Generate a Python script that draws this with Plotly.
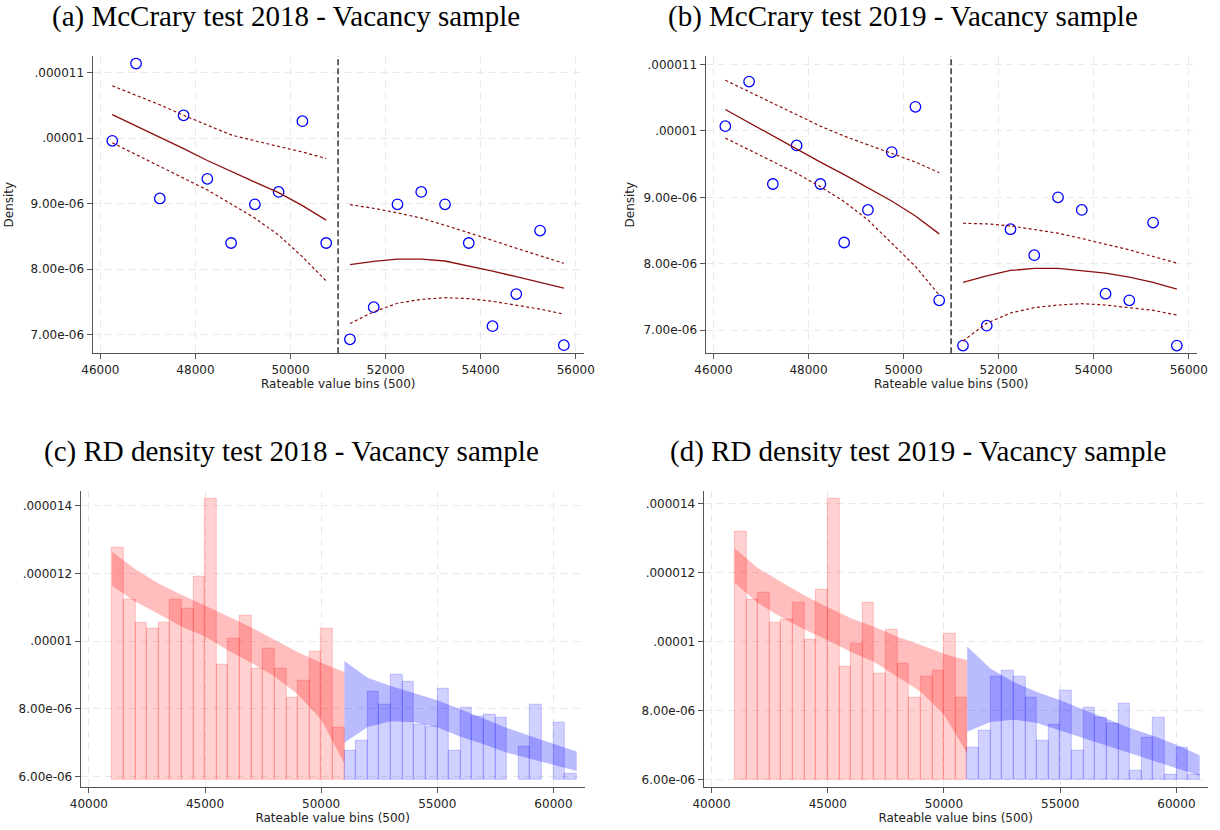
import plotly.graph_objects as go

E6 = 1e-6          # densities below are stored in units of 1e-6
cutoff = 51000     # threshold in rateable value
bin_width = 500

# ---------------- McCrary panels (a) and (b) ----------------
mc_bins = [46250, 46750, 47250, 47750, 48250, 48750, 49250, 49750, 50250, 50750,
           51250, 51750, 52250, 52750, 53250, 53750, 54250, 54750, 55250, 55750]
mc_left_x = mc_bins[:10]
mc_right_x = mc_bins[10:]

dens_2018 = [9.96, 11.14, 9.08, 10.35, 9.38, 8.40, 8.99, 9.18, 10.26, 8.40,
             6.93, 7.42, 8.99, 9.18, 8.99, 8.40, 7.13, 7.62, 8.59, 6.84]
fit_left_2018 = [10.36, 10.19, 10.01, 9.84, 9.66, 9.49, 9.33, 9.17, 8.97, 8.75]
up_left_2018 = [10.80, 10.66, 10.51, 10.35, 10.20, 10.05, 9.96, 9.88, 9.79, 9.69]
lo_left_2018 = [9.93, 9.75, 9.575, 9.40, 9.21, 8.995, 8.78, 8.52, 8.19, 7.82]
fit_right_2018 = [8.07, 8.12, 8.155, 8.155, 8.125, 8.05, 7.97, 7.885, 7.80, 7.71]
up_right_2018 = [8.985, 8.93, 8.86, 8.78, 8.67, 8.56, 8.44, 8.32, 8.21, 8.09]
lo_right_2018 = [7.17, 7.35, 7.48, 7.54, 7.565, 7.55, 7.51, 7.45, 7.39, 7.315]

dens_2019 = [10.07, 10.74, 9.20, 9.78, 9.20, 8.32, 8.81, 9.68, 10.36, 7.45,
             6.77, 7.07, 8.52, 8.13, 9.00, 8.81, 7.55, 7.45, 8.62, 6.77]
fit_left_2019 = [10.32, 10.12, 9.93, 9.73, 9.53, 9.34, 9.14, 8.945, 8.72, 8.45]
up_left_2019 = [10.76, 10.59, 10.41, 10.24, 10.07, 9.92, 9.79, 9.66, 9.53, 9.37]
lo_left_2019 = [9.89, 9.71, 9.54, 9.36, 9.16, 8.935, 8.66, 8.31, 7.96, 7.53]
fit_right_2019 = [7.72, 7.82, 7.90, 7.93, 7.93, 7.90, 7.86, 7.80, 7.72, 7.62]
up_right_2019 = [8.61, 8.60, 8.57, 8.52, 8.46, 8.38, 8.30, 8.21, 8.11, 8.01]
lo_right_2019 = [6.84, 7.105, 7.26, 7.34, 7.38, 7.40, 7.38, 7.34, 7.30, 7.23]

# ---------------- RD density panels (c) and (d) ----------------
hist_left_x = [41250, 41750, 42250, 42750, 43250, 43750, 44250, 44750, 45250, 45750,
               46250, 46750, 47250, 47750, 48250, 48750, 49250, 49750, 50250, 50750]
hist_right_x = [51250, 51750, 52250, 52750, 53250, 53750, 54250, 54750, 55250, 55750,
                56250, 56750, 57250, 57750, 58250, 58750, 59250, 59750, 60250, 60750]

hist_left_2018 = [12.77, 11.23, 10.55, 10.35, 10.55, 11.23, 10.95, 11.90, 14.22, 9.29,
                  10.06, 10.74, 9.19, 9.76, 9.19, 8.32, 8.82, 9.67, 10.35, 7.45]
hist_right_2018 = [6.77, 7.06, 8.51, 8.13, 9.00, 8.81, 7.54, 7.46, 8.60, 6.77,
                   8.02, 7.75, 7.83, 7.73, None, 6.87, 8.13, None, 7.58, 6.09]
hist_base_2018 = 5.91

hist_left_2019 = [13.18, 11.23, 11.42, 10.54, 10.64, 11.13, 10.06, 11.52, 14.15, 9.28,
                  9.95, 11.13, 9.08, 10.35, 9.37, 8.39, 8.98, 9.17, 10.24, 8.39]
hist_right_2019 = [6.94, 7.42, 8.98, 9.17, 8.98, 8.39, 7.12, 7.60, 8.59, 6.83,
                   8.10, 7.81, 7.61, 8.19, 6.25, 7.23, 7.81, 6.15, 6.94, 6.15]
hist_base_2019 = 6.00

band_left_x = [41000, 42000, 43000, 44000, 45000, 46000, 47000, 48000, 49000, 50000, 50500, 51000]
band_right_x = [51000, 52000, 53000, 54000, 55000, 56000, 57000, 58000, 59000, 60000, 61000]

band_left_up_2018 = [12.64, 12.12, 11.70, 11.36, 11.05, 10.72, 10.40, 10.03, 9.67, 9.36, 9.22, 9.08]
band_left_lo_2018 = [11.63, 11.16, 10.80, 10.42, 10.13, 9.72, 9.35, 8.95, 8.42, 7.68, 7.05, 6.38]
band_right_up_2018 = [9.41, 8.91, 8.67, 8.46, 8.25, 7.98, 7.70, 7.43, 7.19, 6.96, 6.73]
band_right_lo_2018 = [6.99, 7.46, 7.63, 7.60, 7.45, 7.17, 6.95, 6.70, 6.52, 6.34, 6.16]

band_left_up_2019 = [12.71, 12.13, 11.73, 11.34, 11.00, 10.68, 10.43, 10.14, 9.90, 9.65, 9.55, 9.47]
band_left_lo_2019 = [11.70, 11.12, 10.71, 10.35, 10.04, 9.70, 9.41, 8.98, 8.55, 7.89, 7.33, 6.76]
band_right_up_2019 = [9.86, 9.22, 8.83, 8.54, 8.30, 8.03, 7.76, 7.50, 7.27, 7.01, 6.71]
band_right_lo_2019 = [7.39, 7.67, 7.74, 7.64, 7.43, 7.22, 7.00, 6.76, 6.55, 6.33, 6.11]

titles = ["(a) McCrary test 2018 - Vacancy sample",
          "(b) McCrary test 2019 - Vacancy sample",
          "(c) RD density test 2018 - Vacancy sample",
          "(d) RD density test 2019 - Vacancy sample"]
x_title = "Rateable value bins (500)"
y_title = "Density"

mc_xticks = [46000, 48000, 50000, 52000, 54000, 56000]
rd_xticks = [40000, 45000, 50000, 55000, 60000]
mc_yticks = [7, 8, 9, 10, 11]
mc_yticktext = ["7.00e-06", "8.00e-06", "9.00e-06", ".00001", ".000011"]
rd_yticks = [6, 8, 10, 12, 14]
rd_yticktext = ["6.00e-06", "8.00e-06", ".00001", ".000012", ".000014"]

# axis ranges (x in rateable value, y in units of 1e-6)
xranges = {1: [45838, 56170], 2: [45837, 56170], 3: [39652, 61341], 4: [39669, 61341]}
yranges = {1: [6.716, 11.255], 2: [6.654, 11.125], 3: [5.675, 14.443], 4: [5.778, 14.377]}


def scaled(values):
    return [None if v is None else v * E6 for v in values]


W, H = 1220, 830
MAROON = "#8b1010"
RED_BAR = "rgba(255,0,0,0.18)"
RED_EDGE = "rgba(255,0,0,0.20)"
RED_BAND = "rgba(255,0,0,0.26)"
BLUE_BAR = "rgba(0,0,255,0.18)"
BLUE_EDGE = "rgba(0,0,255,0.20)"
BLUE_BAND = "rgba(0,0,255,0.27)"

fig = go.Figure()


def add_mccrary(k, dens, fl, ul, ll, fr, ur, lr):
    xa, ya = f"x{k}", f"y{k}"
    fig.add_trace(go.Scatter(x=mc_bins, y=scaled(dens), mode="markers",
                             marker=dict(symbol="circle-open", size=10.5, color="#0000ff",
                                         line=dict(width=1.3, color="#0000ff")),
                             xaxis=xa, yaxis=ya, showlegend=False))
    for xs, f, u, l in ((mc_left_x, fl, ul, ll), (mc_right_x, fr, ur, lr)):
        fig.add_trace(go.Scatter(x=xs, y=scaled(f), mode="lines",
                                 line=dict(color=MAROON, width=1.3),
                                 xaxis=xa, yaxis=ya, showlegend=False))
        for ci in (u, l):
            fig.add_trace(go.Scatter(x=xs, y=scaled(ci), mode="lines",
                                     line=dict(color=MAROON, width=1.2, dash="3px,2.5px"),
                                     xaxis=xa, yaxis=ya, showlegend=False))
    # cutoff line across the whole panel height
    fig.add_trace(go.Scatter(x=[cutoff, cutoff], y=scaled(yranges[k]), mode="lines",
                             line=dict(color="black", width=1.2, dash="6px,3px"),
                             xaxis=xa, yaxis=ya, showlegend=False, hoverinfo="skip"))


def add_rd(k, hl, hr, base, blx_up, blx_lo, brx_up, brx_lo):
    xa, ya = f"x{k}", f"y{k}"
    for xs, hs, fill, edge in ((hist_left_x, hl, RED_BAR, RED_EDGE),
                               (hist_right_x, hr, BLUE_BAR, BLUE_EDGE)):
        px = [x for x, h in zip(xs, hs) if h is not None]
        ph = [(h - base) * E6 for h in hs if h is not None]
        fig.add_trace(go.Bar(x=px, y=ph, base=base * E6, width=bin_width,
                             marker=dict(color=fill, line=dict(color=edge, width=1)),
                             xaxis=xa, yaxis=ya, showlegend=False))
    for xs, up, lo, col in ((band_left_x, blx_up, blx_lo, RED_BAND),
                            (band_right_x, brx_up, brx_lo, BLUE_BAND)):
        fig.add_trace(go.Scatter(x=xs + xs[::-1], y=scaled(up) + scaled(lo)[::-1],
                                 mode="lines", fill="toself", fillcolor=col,
                                 line=dict(width=0), xaxis=xa, yaxis=ya,
                                 showlegend=False, hoverinfo="skip"))


add_mccrary(1, dens_2018, fit_left_2018, up_left_2018, lo_left_2018,
            fit_right_2018, up_right_2018, lo_right_2018)
add_mccrary(2, dens_2019, fit_left_2019, up_left_2019, lo_left_2019,
            fit_right_2019, up_right_2019, lo_right_2019)
add_rd(3, hist_left_2018, hist_right_2018, hist_base_2018,
       band_left_up_2018, band_left_lo_2018, band_right_up_2018, band_right_lo_2018)
add_rd(4, hist_left_2019, hist_right_2019, hist_base_2019,
       band_left_up_2019, band_left_lo_2019, band_right_up_2019, band_right_lo_2019)

TICKFONT = dict(family="DejaVu Sans", size=12, color="#222")
LABELFONT = dict(family="DejaVu Sans", size=12, color="#222")
GRID = dict(showgrid=True, gridcolor="#e9e9e9", gridwidth=1, griddash="7px,5px")
AXLINE = dict(showline=True, linecolor="#555", linewidth=1.3, ticks="outside",
              ticklen=5, tickcolor="#555", tickwidth=1.2, zeroline=False,
              tickfont=TICKFONT, automargin=False, ticklabeloverflow="allow")

# plot-area boxes in pixels (left, right, top, bottom)
boxes = {
    1: (92.7, 583.8, 56.0, 353.3),
    2: (705.7, 1196.8, 56.0, 353.3),
    3: (80.8, 584.6, 490.7, 787.3),
    4: (703.8, 1207.6, 490.7, 787.3),
}
y_title_standoff = {1: 14, 2: 6}

layout = {}
for k, (l, r, t, b) in boxes.items():
    sfx = "" if k == 1 else str(k)
    mc = k in (1, 2)
    xt = mc_xticks if mc else rd_xticks
    layout[f"xaxis{sfx}"] = dict(
        domain=[l / W, r / W], anchor=f"y{sfx}", range=xranges[k],
        tickvals=xt, ticktext=[str(v) for v in xt],
        title=dict(text=x_title, font=LABELFONT, standoff=3),
        **GRID, **AXLINE)
    layout[f"yaxis{sfx}"] = dict(
        domain=[1 - b / H, 1 - t / H], anchor=f"x{sfx}",
        range=scaled(yranges[k]),
        tickvals=scaled(mc_yticks if mc else rd_yticks),
        ticktext=mc_yticktext if mc else rd_yticktext,
        title=dict(text=y_title if mc else "", font=LABELFONT,
                   standoff=y_title_standoff.get(k, 10)),
        **GRID, **AXLINE)

title_pos = [(286, 16), (903, 16), (291, 451), (918, 451)]
annotations = [dict(text=t, x=cx / W, y=1 - cy / H, xref="paper", yref="paper",
                    xanchor="center", yanchor="middle", showarrow=False,
                    font=dict(family="Liberation Serif", size=29, color="black"))
               for t, (cx, cy) in zip(titles, title_pos)]

fig.update_layout(width=W, height=H, margin=dict(l=0, r=0, t=0, b=0),
                  paper_bgcolor="white", plot_bgcolor="white",
                  barmode="overlay", bargap=0, annotations=annotations, **layout)

fig.write_html("out.html")
